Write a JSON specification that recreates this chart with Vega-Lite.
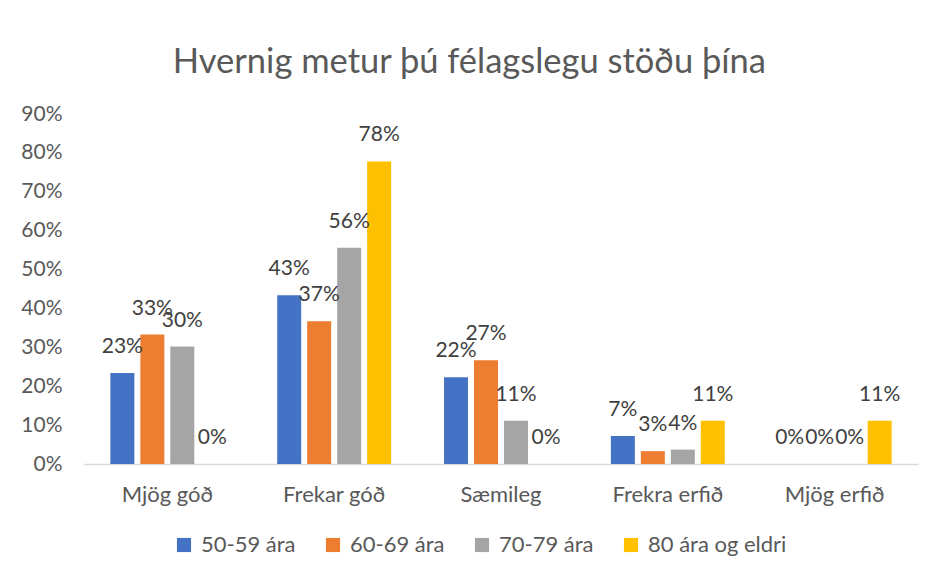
{
  "$schema": "https://vega.github.io/schema/vega-lite/v6.json",
  "autosize": "none",
  "width": 834,
  "height": 350,
  "padding": {"left": 84, "top": 114, "right": 10, "bottom": 101},
  "background": "white",
  "config": {
    "font": "Lato",
    "view": {"stroke": null}
  },
  "title": {
    "text": "Hvernig metur þú félagslegu stöðu þína",
    "fontSize": 34.5,
    "fontWeight": "normal",
    "color": "#595959",
    "anchor": "middle",
    "frame": "bounds",
    "offset": 23
  },
  "data": {
    "values": [
      {"cat": "Mjög góð", "group": "50-59 ára", "value": 0.234},
      {"cat": "Mjög góð", "group": "60-69 ára", "value": 0.333},
      {"cat": "Mjög góð", "group": "70-79 ára", "value": 0.302},
      {"cat": "Mjög góð", "group": "80 ára og eldri", "value": 0},
      {"cat": "Frekar góð", "group": "50-59 ára", "value": 0.434},
      {"cat": "Frekar góð", "group": "60-69 ára", "value": 0.367},
      {"cat": "Frekar góð", "group": "70-79 ára", "value": 0.556},
      {"cat": "Frekar góð", "group": "80 ára og eldri", "value": 0.778},
      {"cat": "Sæmileg", "group": "50-59 ára", "value": 0.223},
      {"cat": "Sæmileg", "group": "60-69 ára", "value": 0.267},
      {"cat": "Sæmileg", "group": "70-79 ára", "value": 0.111},
      {"cat": "Sæmileg", "group": "80 ára og eldri", "value": 0},
      {"cat": "Frekra erfið", "group": "50-59 ára", "value": 0.072},
      {"cat": "Frekra erfið", "group": "60-69 ára", "value": 0.033},
      {"cat": "Frekra erfið", "group": "70-79 ára", "value": 0.037},
      {"cat": "Frekra erfið", "group": "80 ára og eldri", "value": 0.111},
      {"cat": "Mjög erfið", "group": "50-59 ára", "value": 0},
      {"cat": "Mjög erfið", "group": "60-69 ára", "value": 0},
      {"cat": "Mjög erfið", "group": "70-79 ára", "value": 0},
      {"cat": "Mjög erfið", "group": "80 ára og eldri", "value": 0.111}
    ]
  },
  "encoding": {
    "x": {
      "field": "cat",
      "type": "nominal",
      "sort": null,
      "scale": {"paddingInner": 0.317, "paddingOuter": 0.158},
      "axis": {
        "title": null,
        "labelAngle": 0,
        "labelFontSize": 22,
        "labelColor": "#595959",
        "labelPadding": 20,
        "ticks": false,
        "domainColor": "#D9D9D9",
        "domainWidth": 1.5
      }
    },
    "xOffset": {
      "field": "group",
      "type": "nominal",
      "sort": null,
      "scale": {"paddingInner": 0.2, "paddingOuter": 0}
    },
    "y": {
      "field": "value",
      "type": "quantitative",
      "scale": {"domain": [0, 0.9], "nice": false},
      "axis": {
        "title": null,
        "values": [0, 0.1, 0.2, 0.3, 0.4, 0.5, 0.6, 0.7, 0.8, 0.9],
        "format": ".0%",
        "grid": false,
        "domain": false,
        "ticks": false,
        "labelFontSize": 21,
        "labelColor": "#595959",
        "labelPadding": 22
      }
    }
  },
  "layer": [
    {
      "mark": {"type": "bar"},
      "encoding": {
        "color": {
          "field": "group",
          "type": "nominal",
          "sort": null,
          "scale": {
            "domain": ["50-59 ára", "60-69 ára", "70-79 ára", "80 ára og eldri"],
            "range": ["#4472C4", "#ED7D31", "#A5A5A5", "#FFC000"]
          },
          "legend": {
            "title": null,
            "orient": "none",
            "legendX": 89,
            "legendY": 420,
            "direction": "horizontal",
            "symbolType": "square",
            "symbolSize": 200,
            "symbolStrokeWidth": 0,
            "labelFontSize": 22,
            "labelColor": "#595959",
            "columnPadding": 26,
            "labelOffset": 6
          }
        }
      }
    },
    {
      "mark": {"type": "text", "baseline": "alphabetic", "dy": -20, "fontSize": 21, "color": "#404040"},
      "encoding": {
        "text": {"field": "value", "type": "quantitative", "format": ".0%"}
      }
    }
  ]
}
